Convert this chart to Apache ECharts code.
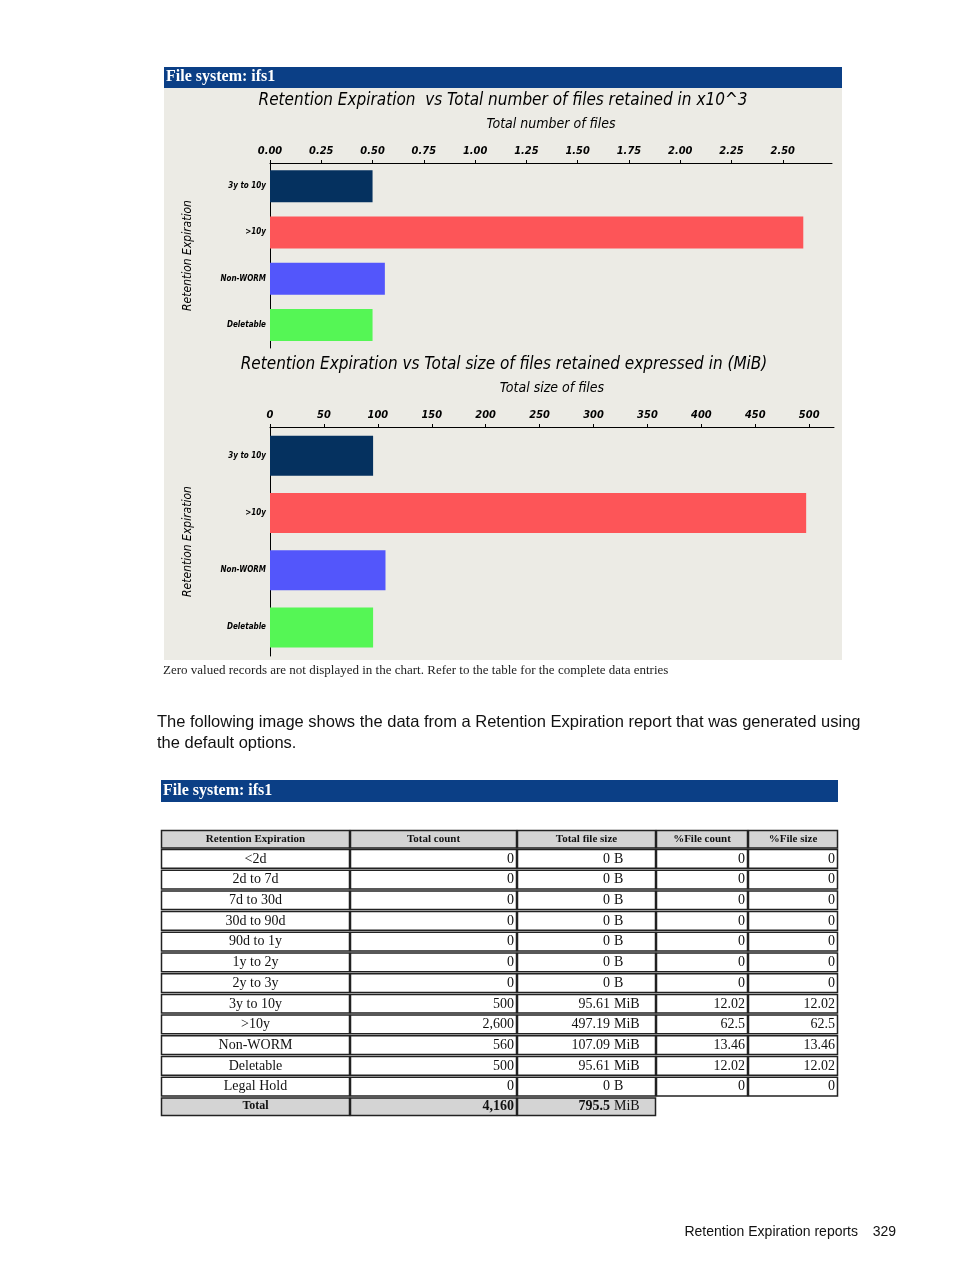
<!DOCTYPE html>
<html>
<head>
<meta charset="utf-8">
<script src="https://cdn.jsdelivr.net/npm/echarts@6/dist/echarts.min.js"></script>
<style>
  html, body { margin: 0; padding: 0; background: #fff; }
  #page { width: 954px; height: 1271px; }
</style>
</head>
<body>
<div id="page"></div>
<script>
// chart data
const categories = ['3y to 10y', '>10y', 'Non-WORM', 'Deletable']
const countValues = [0.5, 2.6, 0.56, 0.5]
const sizeValues = [95.61, 497.19, 107.09, 95.61]
const barColors = ['#05315f', '#fd5558', '#5356fb', '#55f655']

// table data
const tableHeader = ['Retention Expiration', 'Total count', 'Total file size', '%File count', '%File size']
const tableLabels = ['<2d', '2d to 7d', '7d to 30d', '30d to 90d', '90d to 1y', '1y to 2y', '2y to 3y', '3y to 10y', '>10y', 'Non-WORM', 'Deletable', 'Legal Hold']
const tableCounts = ['0', '0', '0', '0', '0', '0', '0', '500', '2,600', '560', '500', '0']
const tableSizes = ['0 B', '0 B', '0 B', '0 B', '0 B', '0 B', '0 B', '95.61 MiB', '497.19 MiB', '107.09 MiB', '95.61 MiB', '0 B']
const tablePctCount = ['0', '0', '0', '0', '0', '0', '0', '12.02', '62.5', '13.46', '12.02', '0']
const tablePctSize = ['0', '0', '0', '0', '0', '0', '0', '12.02', '62.5', '13.46', '12.02', '0']
const tableTotal = ['Total', '4,160', '795.5 MiB']

const chartFont = '"DejaVu Sans Condensed", "DejaVu Sans", sans-serif'
const serif = '"Liberation Serif", serif'

function catAxis (gridIndex) {
  return {
    type: 'category',
    gridIndex: gridIndex,
    data: categories,
    inverse: true,
    axisLine: { show: true, lineStyle: { color: '#000', width: 1 } },
    axisTick: { show: false },
    axisLabel: { color: '#000', fontSize: 8, fontStyle: 'italic', fontWeight: 'bold', fontFamily: chartFont, margin: 4 },
    name: 'Retention Expiration',
    nameLocation: 'middle',
    nameRotate: 90,
    nameGap: 76,
    nameTextStyle: { color: '#000', fontSize: 12, fontStyle: 'italic', fontFamily: chartFont }
  }
}

function valAxis (gridIndex, max, interval, fmt, name) {
  return {
    type: 'value',
    gridIndex: gridIndex,
    position: 'top',
    min: 0,
    max: max,
    interval: interval,
    splitLine: { show: false },
    axisLine: { show: true, lineStyle: { color: '#000', width: 1 } },
    axisTick: { show: true, length: 3, inside: false, lineStyle: { color: '#000' } },
    axisLabel: {
      color: '#000', fontSize: 11, fontStyle: 'italic', fontWeight: 'bold', fontFamily: chartFont, margin: 6,
      showMaxLabel: false, formatter: fmt
    },
    name: name,
    nameLocation: 'middle',
    nameGap: 32,
    nameTextStyle: { color: '#000', fontSize: 14, fontStyle: 'italic', fontFamily: chartFont }
  }
}

// build table graphics
const colX = [161, 350, 517, 656, 748, 838]
const rowH = 20.7
const headTop = 830
const graphics = []

function cell (x0, x1, y0, h, fill) {
  graphics.push({
    type: 'rect',
    shape: { x: x0 + 0.5, y: y0 + 0.5, width: x1 - x0 - 1, height: h - 2 },
    style: { fill: fill, stroke: '#222', lineWidth: 1.5 }
  })
}
function txt (x, y, s, align, opts) {
  graphics.push({
    type: 'text', x: x, y: y,
    style: Object.assign({ text: s, align: align, verticalAlign: 'middle', fill: '#111', font: '14px ' + serif }, opts || {})
  })
}

tableHeader.forEach((h, i) => {
  cell(colX[i], colX[i + 1], headTop, 19.5, '#d4d4d4')
  txt((colX[i] + colX[i + 1]) / 2, headTop + 9, h, 'center', { font: 'bold 11px ' + serif })
})
tableLabels.forEach((lab, r) => {
  const y0 = 849 + r * rowH
  const cols = [lab, tableCounts[r], tableSizes[r], tablePctCount[r], tablePctSize[r]]
  cols.forEach((v, i) => {
    cell(colX[i], colX[i + 1], y0, rowH, '#fff')
    if (i === 0) txt((colX[0] + colX[1]) / 2, y0 + 10, v, 'center')
    else if (i === 2) {
      const parts = v.split(' ')
      txt(610, y0 + 10, parts[0], 'right')
      txt(614, y0 + 10, parts[1], 'left')
    } else txt(colX[i + 1] - 3, y0 + 10, v, 'right')
  })
})
const totY = 849 + tableLabels.length * rowH
for (let i = 0; i < 3; i++) cell(colX[i], colX[i + 1], totY, 19.5, '#d4d4d4')
txt((colX[0] + colX[1]) / 2, totY + 9, tableTotal[0], 'center', { font: 'bold 12px ' + serif })
txt(colX[2] - 3, totY + 9, tableTotal[1], 'right', { font: 'bold 14px ' + serif })
txt(610, totY + 9, tableTotal[2].split(' ')[0], 'right', { font: 'bold 14px ' + serif })
txt(614, totY + 9, tableTotal[2].split(' ')[1], 'left')

const option = {
  animation: false,
  backgroundColor: '#fff',
  graphic: [
    // chart panel background
    { type: 'rect', z: -10, shape: { x: 164, y: 88, width: 678, height: 572 }, style: { fill: '#ecebe5' } },
    { type: 'rect', shape: { x: 164, y: 67, width: 678, height: 21 }, style: { fill: '#0b3f86' } },
    { type: 'text', x: 166, y: 77, style: { text: 'File system: ifs1', fill: '#fff', font: 'bold 16px ' + serif, verticalAlign: 'middle' } },
    { type: 'text', x: 503, y: 101, style: { text: 'Retention Expiration  vs Total number of files retained in x10^3', fill: '#000', font: 'italic 17px ' + chartFont, align: 'center', verticalAlign: 'middle' } },
    { type: 'text', x: 504, y: 365, style: { text: 'Retention Expiration vs Total size of files retained expressed in (MiB)', fill: '#000', font: 'italic 17px ' + chartFont, align: 'center', verticalAlign: 'middle' } },
    { type: 'text', x: 163, y: 671, style: { text: 'Zero valued records are not displayed in the chart. Refer to the table for the complete data entries', fill: '#222', font: '13px ' + serif, verticalAlign: 'middle' } },
    { type: 'text', x: 157, y: 722, style: { text: 'The following image shows the data from a Retention Expiration report that was generated using', fill: '#111', font: '16.5px "Liberation Sans", sans-serif', verticalAlign: 'middle' } },
    { type: 'text', x: 157, y: 743, style: { text: 'the default options.', fill: '#111', font: '16.5px "Liberation Sans", sans-serif', verticalAlign: 'middle' } },
    { type: 'rect', shape: { x: 161, y: 780, width: 677, height: 22 }, style: { fill: '#0b3f86' } },
    { type: 'text', x: 163, y: 791, style: { text: 'File system: ifs1', fill: '#fff', font: 'bold 16px ' + serif, verticalAlign: 'middle' } },
    { type: 'text', x: 858, y: 1232, style: { text: 'Retention Expiration reports', fill: '#111', font: '14px "Liberation Sans", sans-serif', align: 'right', verticalAlign: 'middle' } },
    { type: 'text', x: 896, y: 1232, style: { text: '329', fill: '#111', font: '14px "Liberation Sans", sans-serif', align: 'right', verticalAlign: 'middle' } }
  ].concat(graphics),
  grid: [
    { left: 270, right: 122, top: 163, height: 185 },
    { left: 270, right: 120, top: 427, height: 229 }
  ],
  xAxis: [
    valAxis(0, 2.74, 0.25, v => v.toFixed(2), 'Total number of files'),
    valAxis(1, 523, 50, v => String(v), 'Total size of files')
  ],
  yAxis: [catAxis(0), catAxis(1)],
  series: [
    {
      type: 'bar', xAxisIndex: 0, yAxisIndex: 0, barWidth: 32,
      data: countValues.map((v, i) => ({ value: v, itemStyle: { color: barColors[i] } }))
    },
    {
      type: 'bar', xAxisIndex: 1, yAxisIndex: 1, barWidth: 40,
      data: sizeValues.map((v, i) => ({ value: v, itemStyle: { color: barColors[i] } }))
    }
  ]
}

const chart = echarts.init(document.getElementById('page'))
chart.setOption(option)
</script>
</body>
</html>
